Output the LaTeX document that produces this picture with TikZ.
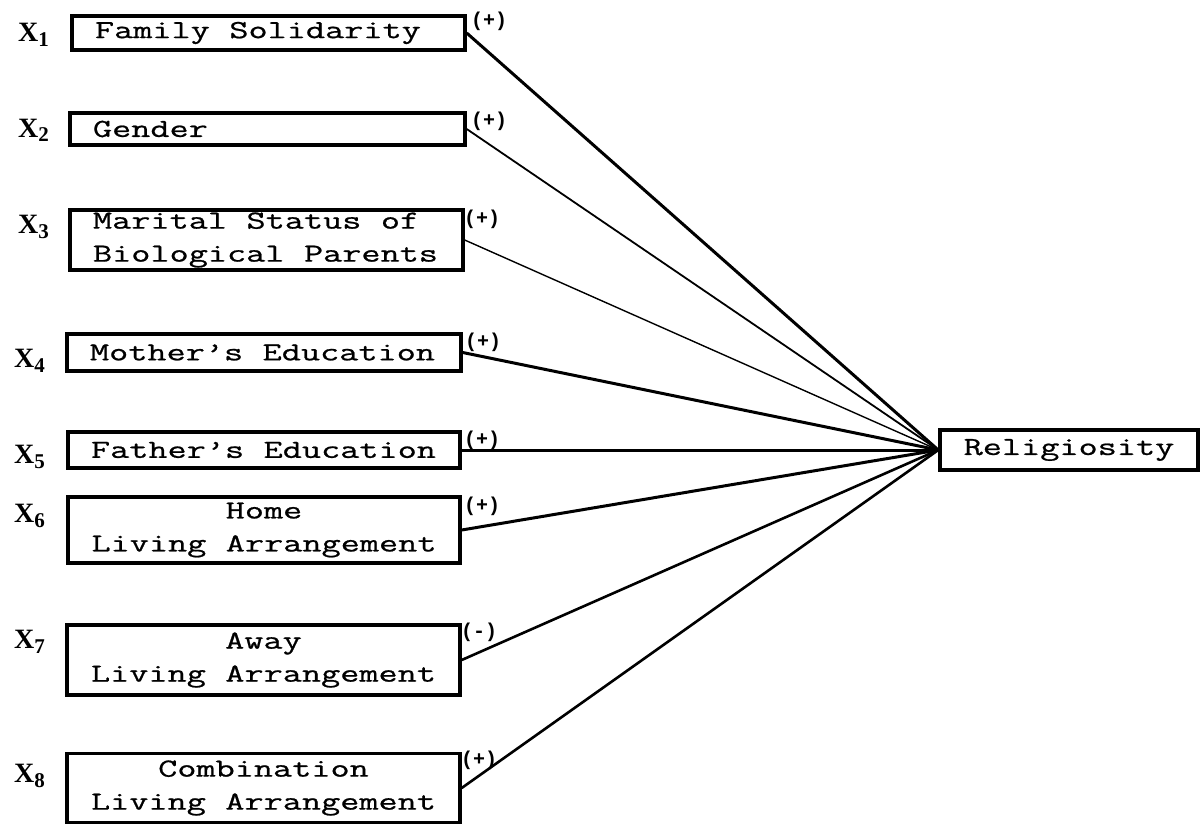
\documentclass[tikz,border=0pt]{standalone}
\usepackage{fontspec}
\newfontfamily\tw{Latin Modern Mono}[FakeStretch=1.43,FakeBold=0.8]
\newfontfamily\xf{Liberation Serif}
\newfontfamily\sgnfont{Liberation Mono}
\newcommand\wsp{\hspace*{19.5pt}}
\begin{document}
\begin{tikzpicture}[x=1pt,y=-1pt,
  box/.style={draw, line width=3.4pt, inner xsep=23pt, inner ysep=0pt, font=\tw\fontsize{26}{33}\selectfont, align=left},
  boxc/.style={box, align=center},
  xlab/.style={anchor=base west, inner sep=0pt, font=\xf\bfseries\fontsize{28}{28}\selectfont},
  sgn/.style={inner sep=0pt, font=\sgnfont\bfseries\fontsize{20}{20}\selectfont},
  lnk/.style={line width=3pt},
  lnkthin/.style={line width=1.8pt}]
\useasboundingbox (0,0) rectangle (1204,824);
% boxes
\node[box, text width=347pt, minimum height=34pt] (b1) at (268.5,33) {Family\wsp Solidarity};
\node[box, text width=349pt, minimum height=32pt] (b2) at (267.5,129) {Gender};
\node[box, text width=347pt, minimum height=60pt] (b3) at (266.5,240) {Marital\wsp Status\wsp of\\Biological\wsp Parents};
\node[box, text width=348pt, minimum height=37pt] (b4) at (264,352.5) {Mother’s\wsp Education};
\node[box, text width=346pt, minimum height=36pt] (b5) at (264,450) {Father’s\wsp Education};
\node[boxc, text width=346pt, minimum height=66pt] (b6) at (264,530) {Home\\Living\wsp Arrangement};
\node[boxc, text width=347pt, minimum height=70pt] (b7) at (263.5,660) {Away\\Living\wsp Arrangement};
\node[boxc, text width=347pt, minimum height=69pt] (b8) at (263.5,788) {Combination\\Living\wsp Arrangement};
\node[box, inner xsep=0pt, text width=258pt, align=center, minimum height=40pt] (rel) at (1069,450) {Religiosity};
% variable labels
\node[xlab] (x1) at (18,42) {X\raisebox{-5pt}{\fontsize{21}{21}\selectfont 1}};
\node[xlab] (x2) at (18,137) {X\raisebox{-5pt}{\fontsize{21}{21}\selectfont 2}};
\node[xlab] (x3) at (18,233) {X\raisebox{-5pt}{\fontsize{21}{21}\selectfont 3}};
\node[xlab] (x4) at (14,367) {X\raisebox{-5pt}{\fontsize{21}{21}\selectfont 4}};
\node[xlab] (x5) at (14,463) {X\raisebox{-5pt}{\fontsize{21}{21}\selectfont 5}};
\node[xlab] (x6) at (14,522) {X\raisebox{-5pt}{\fontsize{21}{21}\selectfont 6}};
\node[xlab] (x7) at (14,648) {X\raisebox{-5pt}{\fontsize{21}{21}\selectfont 7}};
\node[xlab] (x8) at (14,782) {X\raisebox{-5pt}{\fontsize{21}{21}\selectfont 8}};
% signs
\node[sgn] (s1) at (489,21) {(+)};
\node[sgn] (s2) at (489,121) {(+)};
\node[sgn] (s3) at (482,219) {(+)};
\node[sgn] (s4) at (483,342) {(+)};
\node[sgn] (s5) at (482,440) {(+)};
\node[sgn] (s6) at (482,506) {(+)};
\node[sgn] (s7) at (479,632) {(-)};
\node[sgn] (s8) at (479,760) {(+)};
% connectors
\draw[lnk] (b1.east) -- (rel.west);
\draw[lnkthin] (b2.east) -- (rel.west);
\draw[line width=1.4pt] (b3.east) -- (rel.west);
\draw[lnk] (b4.east) -- (rel.west);
\draw[lnk] (b5.east) -- (rel.west);
\draw[lnk] (b6.east) -- (rel.west);
\draw[line width=2.6pt] (b7.east) -- (rel.west);
\draw[line width=2.6pt] (b8.east) -- (rel.west);
\end{tikzpicture}
\end{document}
